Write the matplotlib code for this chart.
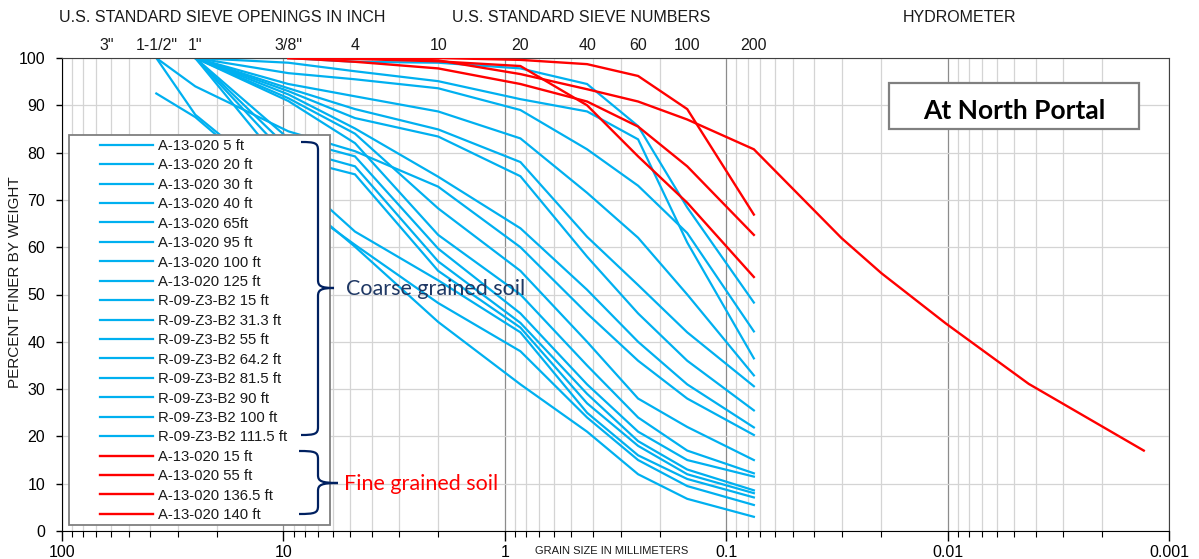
import numpy as np
import matplotlib.pyplot as plt
from matplotlib.path import Path
from matplotlib.patches import PathPatch, Rectangle
from matplotlib.ticker import FixedLocator, FixedFormatter, LogLocator, NullFormatter

W, H = 1199, 559
nan = np.nan

# sieve openings (mm) used by the test data
sieve_mm = [37.5, 25, 9.5, 4.75, 2.0, 0.85, 0.425, 0.25, 0.15, 0.075]

coarse_labels = ["A-13-020 5 ft", "A-13-020 20 ft", "A-13-020 30 ft", "A-13-020 40 ft",
                 "A-13-020 65ft", "A-13-020 95 ft", "A-13-020 100 ft", "A-13-020 125 ft",
                 "R-09-Z3-B2 15 ft", "R-09-Z3-B2 31.3 ft", "R-09-Z3-B2 55 ft",
                 "R-09-Z3-B2 64.2 ft", "R-09-Z3-B2 81.5 ft", "R-09-Z3-B2 90 ft",
                 "R-09-Z3-B2 100 ft", "R-09-Z3-B2 111.5 ft"]
coarse_pct = [
    [nan, 100, 100, 99.2, 99.0, 97.8, 94.5, 85.6, 68.4, 48.3],
    [nan, 100, 99.0, 97.2, 95.1, 91.3, 88.7, 82.8, 61.0, 36.5],
    [nan, 100, 96.8, 95.5, 93.6, 89.0, 80.7, 73.0, 63.0, 42.2],
    [nan, 100, 94.5, 91.9, 88.7, 83.0, 71.5, 62.0, 50.0, 32.9],
    [nan, 100, 93.6, 89.2, 84.9, 78.0, 62.2, 52.0, 42.0, 30.6],
    [nan, 100, 93.0, 87.3, 83.4, 75.0, 58.0, 46.0, 36.0, 25.5],
    [nan, 100, 92.3, 85.1, 74.9, 64.0, 51.0, 40.0, 31.0, 21.9],
    [100, 94.0, 84.5, 80.3, 72.8, 60.0, 46.0, 36.0, 28.0, 20.3],
    [nan, 100, 91.5, 84.0, 68.2, 55.0, 40.0, 28.0, 22.0, 15.0],
    [nan, 100, 90.9, 82.0, 62.6, 50.0, 35.0, 24.0, 17.0, 12.2],
    [nan, 100, 83.0, 79.2, 59.7, 46.0, 31.0, 21.0, 15.0, 11.5],
    [nan, 100, 81.0, 77.1, 57.0, 44.0, 29.0, 19.0, 13.0, 8.6],
    [nan, 100, 79.0, 75.4, 55.0, 43.0, 27.0, 18.0, 12.0, 8.0],
    [nan, 100, 76.0, 63.3, 53.0, 42.0, 25.0, 16.0, 11.0, 7.1],
    [92.5, 87.5, 70.7, 60.5, 48.2, 38.0, 24.0, 15.0, 9.5, 5.5],
    [100, 88.0, 72.0, 60.1, 44.2, 31.0, 21.0, 12.0, 6.8, 3.0],
]

fine_labels = ["A-13-020 15 ft", "A-13-020 55 ft", "A-13-020 136.5 ft", "A-13-020 140 ft"]
fine_pct = [
    [nan, nan, 100, 100, 100, 99.6, 98.7, 96.2, 89.2, 66.9],
    [nan, nan, 100, 99.8, 99.3, 98.3, 90.0, 79.2, 69.4, 53.7],
    [nan, nan, 100, 99.2, 97.8, 94.5, 90.8, 85.5, 77.1, 62.6],
    [nan, nan, 100, 100, 99.5, 96.6, 93.4, 90.8, 87.0, 80.7],
]
# hydrometer readings for the last fine sample
hydro_mm = [0.0301, 0.0199, 0.0102, 0.0043, 0.0013]
hydro_pct = [61.9, 54.5, 43.9, 31.1, 17.0]

inch_labels = ['3"', '1-1/2"', '1"', '3/8"']
inch_pos = [63, 37.5, 25, 9.5]
number_labels = ['4', '10', '20', '40', '60', '100', '200']
number_pos = [4.75, 2.0, 0.85, 0.425, 0.25, 0.15, 0.075]

BLUE = '#00B0F0'
RED = '#FF0000'
NAVY = '#1F3864'


def fx(px):
    return px / W


def fy(py):
    return 1 - py / H


plt.rcParams['font.family'] = ['Liberation Sans', 'DejaVu Sans']

fig = plt.figure(figsize=(W / 100, H / 100), dpi=100)
ax = fig.add_axes([fx(62), fy(531), (1169 - 62) / W, (531 - 58) / H])

x = np.array(sieve_mm)
handles = []
for pct in coarse_pct:
    y = np.array(pct)
    m = ~np.isnan(y)
    ln, = ax.plot(x[m], y[m], color=BLUE, lw=1.6, zorder=2, solid_joinstyle='miter')
    handles.append(ln)
for i, pct in enumerate(fine_pct):
    y = np.array(pct)
    m = ~np.isnan(y)
    xs, ys = list(x[m]), list(y[m])
    if i == len(fine_pct) - 1:
        xs += hydro_mm
        ys += hydro_pct
    ln, = ax.plot(xs, ys, color=RED, lw=1.7, zorder=3, solid_joinstyle='miter')
    handles.append(ln)

ax.set_xscale('log')
ax.set_xlim(100, 0.001)
ax.set_ylim(0, 100)
ax.xaxis.set_major_locator(FixedLocator([100, 10, 1, 0.1, 0.01, 0.001]))
ax.xaxis.set_major_formatter(FixedFormatter(['100', '10', '1', '0.1', '0.01', '0.001']))
ax.xaxis.set_minor_locator(LogLocator(base=10, subs=range(2, 10)))
ax.xaxis.set_minor_formatter(NullFormatter())
ax.set_yticks(range(0, 101, 10))
ax.grid(which='major', axis='x', color='#8c8c8c', lw=0.9)
ax.grid(which='minor', axis='x', color='#d4d4d4', lw=0.9)
ax.grid(which='major', axis='y', color='#d4d4d4', lw=0.9)
ax.set_axisbelow(True)
ax.tick_params(axis='x', which='major', length=7, width=1, pad=3, labelsize=11.5)
ax.tick_params(axis='x', which='minor', length=4, width=0.8)
ax.tick_params(axis='y', length=4, width=1, pad=8, labelsize=11.5)
for s in ['left', 'bottom']:
    ax.spines[s].set_color('black')
for s in ['top', 'right']:
    ax.spines[s].set_color('#404040')

# legend frame and entries
ax.add_patch(Rectangle((fx(69), fy(525)), fx(330) - fx(69), fy(135) - fy(525),
                       transform=fig.transFigure, facecolor='white', edgecolor='#7f7f7f',
                       lw=1.3, zorder=4, clip_on=False))
leg = ax.legend(handles, coarse_labels + fine_labels, loc='upper left',
                bbox_to_anchor=(fx(100), fy(139)), bbox_transform=fig.transFigure,
                frameon=False, fontsize=10.7, handlelength=3.55, handletextpad=0.35,
                labelspacing=0.365, borderpad=0, borderaxespad=0)
leg.set_zorder(5)
for t in leg.get_texts():
    t.set_color('#1a1a1a')


def brace(x0, xb, xt, ytop, ymid, ybot):
    verts = [(x0, ytop), (xb - 3, ytop), (xb, ytop + 1), (xb, ytop + 8),
             (xb, ymid - 8),
             (xb, ymid - 2), (xb + 3, ymid), (xt, ymid),
             (xb + 3, ymid), (xb, ymid + 2), (xb, ymid + 8),
             (xb, ybot - 8),
             (xb, ybot - 1), (xb - 3, ybot), (x0, ybot)]
    codes = [Path.MOVETO, Path.CURVE4, Path.CURVE4, Path.CURVE4,
             Path.LINETO,
             Path.CURVE4, Path.CURVE4, Path.CURVE4,
             Path.CURVE4, Path.CURVE4, Path.CURVE4,
             Path.LINETO,
             Path.CURVE4, Path.CURVE4, Path.CURVE4]
    verts = [(fx(a), fy(b)) for a, b in verts]
    ax.add_patch(PathPatch(Path(verts, codes), transform=fig.transFigure, fill=False,
                           edgecolor='#002060', lw=1.6, zorder=6, clip_on=False))


brace(301, 318, 334, 142, 288, 435)
brace(299, 318, 338, 451, 483, 514)

fig.text(fx(346), fy(289), 'Coarse grained soil', color=NAVY, fontsize=15.5,
         family=['Lato', 'DejaVu Sans'], va='center', ha='left')
fig.text(fx(344), fy(484), 'Fine grained soil', color=RED, fontsize=15.5,
         family=['Lato', 'DejaVu Sans'], va='center', ha='left')

# title box
ax.add_patch(Rectangle((fx(889), fy(129)), fx(1139) - fx(889), fy(83) - fy(129),
                       transform=fig.transFigure, facecolor='white', edgecolor='#808080',
                       lw=1.6, zorder=6, clip_on=False))
fig.text(fx(1014), fy(111), 'At North Portal', fontsize=19, fontweight='bold',
         family=['Lato', 'DejaVu Sans'], ha='center', va='center', zorder=7)

# headers
fig.text(fx(222), fy(17), 'U.S. STANDARD SIEVE OPENINGS IN INCH', fontsize=11.5,
         ha='center', va='center', color='#1a1a1a')
fig.text(fx(581), fy(17), 'U.S. STANDARD SIEVE NUMBERS', fontsize=11.5,
         ha='center', va='center', color='#1a1a1a')
fig.text(fx(960), fy(17), 'HYDROMETER', fontsize=11.5, ha='center', va='center',
         color='#1a1a1a')
top = ax.get_xaxis_transform()
for lab, pos in zip(inch_labels + number_labels, inch_pos + number_pos):
    ax.text(pos, 1.0 + 13 / (531 - 58), lab, transform=top, ha='center', va='center',
            fontsize=11.5, color='#1a1a1a', clip_on=False)

fig.text(fx(612), fy(551), 'GRAIN SIZE IN MILLIMETERS', fontsize=8, ha='center',
         va='center', color='#1a1a1a')
fig.text(fx(15), fy(282), 'PERCENT FINER BY WEIGHT', fontsize=11, rotation=90,
         ha='center', va='center', color='#1a1a1a')

fig.savefig('out.png', dpi=100)
